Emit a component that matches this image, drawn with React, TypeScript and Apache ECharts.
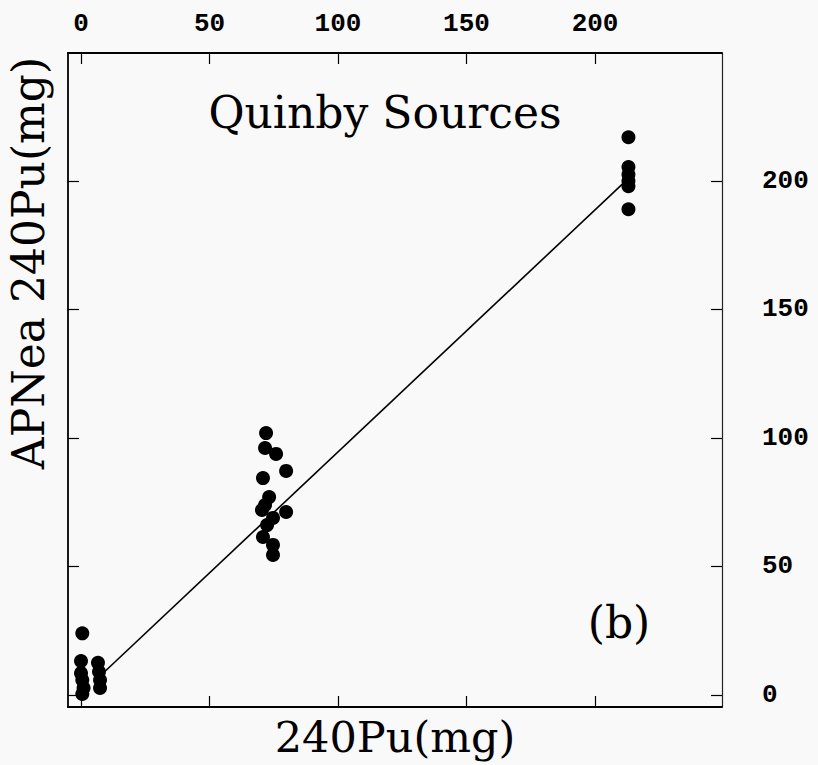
import React, { useEffect, useRef } from "react";
import * as echarts from "echarts";

// Tick values (shared by top x axis and right y axis)
const tickValues = [0, 50, 100, 150, 200];

// Measured points: 240Pu (mg) vs APNea 240Pu (mg)
const pointsX = [
  0.5, 0, 0, 0.5, 1, 0.5,
  6.6, 7, 7.4, 7.4,
  72, 71.6, 75.9, 70.8, 79.8, 73.2, 70.4, 74.7, 79.8, 72.4, 70.8, 74.7, 74.7, 71.6,
  213, 213, 213, 213, 213, 213,
];
const pointsY = [
  24, 13.2, 8.5, 5.8, 2.7, 0.4,
  12.5, 9, 5.8, 2.7,
  101.9, 96.1, 93.8, 84.4, 87.2, 77, 72, 68.9, 71.2, 66.1, 61.5, 58.4, 54.5, 73.9,
  217, 205.4, 202.5, 200, 198, 189,
];

// Fitted line end points
const fitX = [7, 213];
const fitY = [7, 201];

const SERIF = "DejaVu Serif";
const MONO = "Liberation Mono";

export default function App() {
  const ref = useRef<HTMLDivElement>(null);

  useEffect(() => {
    if (!ref.current) return;
    const chart = echarts.init(ref.current, null, { renderer: "svg" });
    const pts = pointsX.map((x, i) => [x, pointsY[i]]);
    const fit = fitX.map((x, i) => [x, fitY[i]]);
    const axisLine = { show: true, onZero: false, lineStyle: { color: "#000", width: 1.8 } };
    const tick = {
      show: true,
      inside: true,
      length: 11,
      customValues: tickValues,
      lineStyle: { color: "#000", width: 1.2 },
    };
    const tickLabel = {
      show: true,
      customValues: tickValues,
      color: "#000",
      fontFamily: MONO,
      fontWeight: "bold",
      fontSize: 26,
    };
    chart.setOption({
      animation: false,
      backgroundColor: "#f9f9f9",
      grid: { left: 68, right: 96, top: 53, bottom: 58, containLabel: false },
      xAxis: [
        {
          type: "value",
          position: "bottom",
          min: -5.06,
          max: 249.4,
          axisLine,
          axisTick: tick,
          axisLabel: { show: false },
          splitLine: { show: false },
        },
        {
          type: "value",
          position: "top",
          min: -5.06,
          max: 249.4,
          axisLine,
          axisTick: tick,
          axisLabel: { ...tickLabel, margin: 16 },
          splitLine: { show: false },
        },
      ],
      yAxis: [
        {
          type: "value",
          position: "left",
          min: -4.67,
          max: 249.8,
          axisLine,
          axisTick: tick,
          axisLabel: { show: false },
          splitLine: { show: false },
        },
        {
          type: "value",
          position: "right",
          min: -4.67,
          max: 249.8,
          axisLine: { show: true, onZero: false, lineStyle: { color: "#222", width: 1.2 } },
          axisTick: tick,
          axisLabel: { ...tickLabel, margin: 40, align: "left" },
          splitLine: { show: false },
        },
      ],
      series: [
        {
          type: "line",
          data: fit,
          xAxisIndex: 0,
          yAxisIndex: 0,
          symbol: "none",
          lineStyle: { color: "#000", width: 1.6 },
          z: 2,
        },
        {
          type: "scatter",
          data: pts,
          xAxisIndex: 0,
          yAxisIndex: 0,
          symbol: "circle",
          symbolSize: 14,
          itemStyle: { color: "#000", opacity: 1 },
          z: 3,
        },
      ],
      graphic: [
        {
          type: "text",
          x: 385,
          y: 112,
          style: {
            text: "Quinby Sources",
            align: "center",
            verticalAlign: "middle",
            font: `normal 44px "${SERIF}"`,
            fill: "#000",
          },
        },
        {
          type: "text",
          x: 619,
          y: 622,
          style: {
            text: "(b)",
            align: "center",
            verticalAlign: "middle",
            font: `normal 44px "${SERIF}"`,
            fill: "#000",
          },
        },
        {
          type: "text",
          x: 395,
          y: 737,
          style: {
            text: "240Pu(mg)",
            align: "center",
            verticalAlign: "middle",
            font: `normal 43px "${SERIF}"`,
            fill: "#000",
          },
        },
        {
          type: "text",
          x: 28,
          y: 263,
          rotation: Math.PI / 2,
          style: {
            text: "APNea 240Pu(mg)",
            align: "center",
            verticalAlign: "middle",
            font: `normal 44px "${SERIF}"`,
            fill: "#000",
          },
        },
      ],
    });
    return () => chart.dispose();
  }, []);

  return (
    <div
      ref={ref}
      style={{ position: "absolute", left: 0, top: 0, width: 818, height: 765 }}
    />
  );
}
